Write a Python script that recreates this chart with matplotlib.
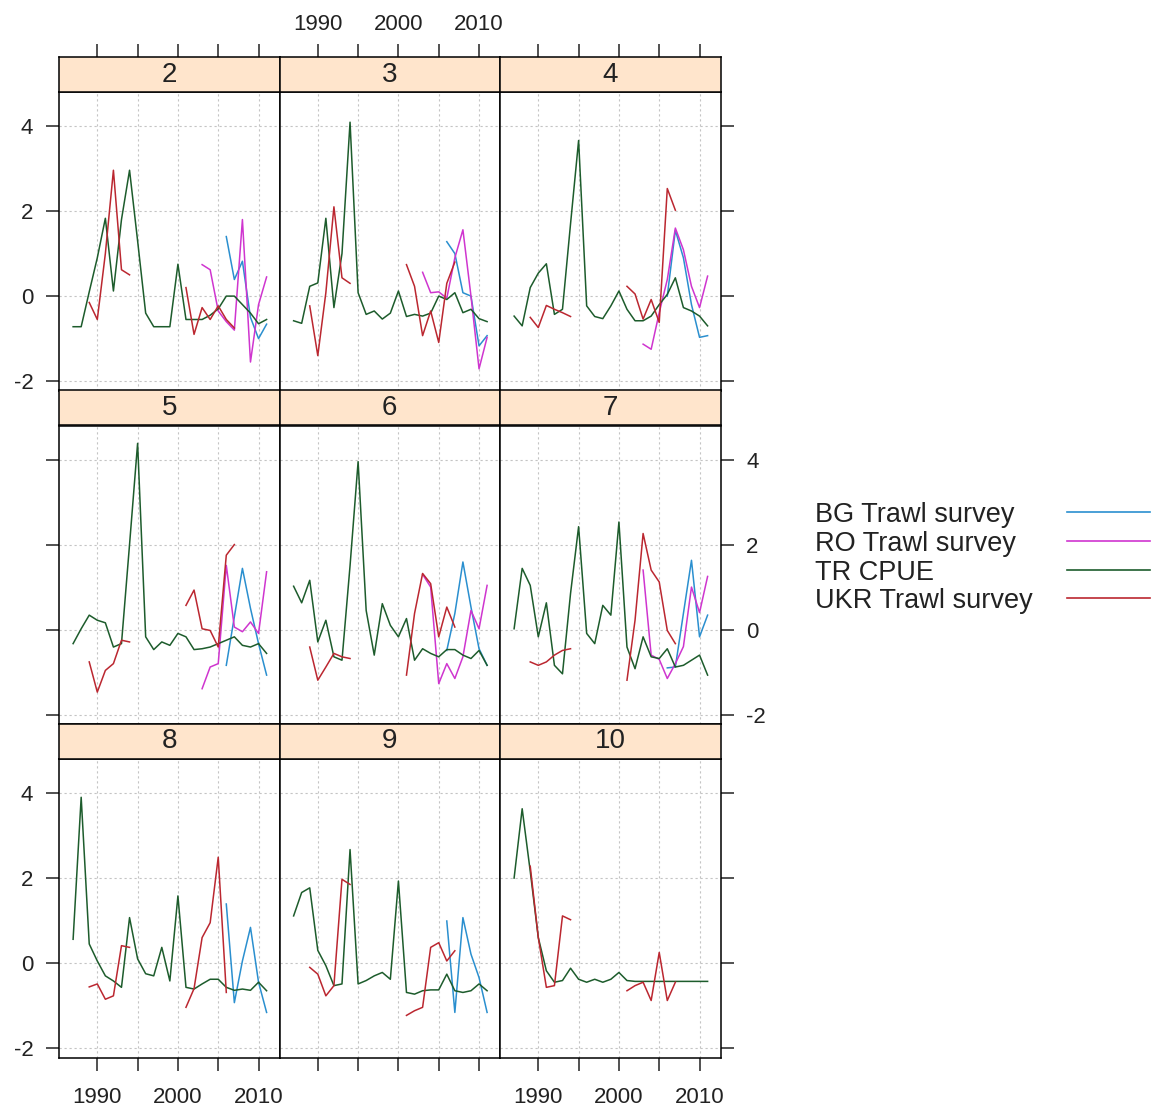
import numpy as np
import matplotlib
matplotlib.use('Agg')
import matplotlib.pyplot as plt
from matplotlib.lines import Line2D

plt.rcParams['font.family'] = ['Liberation Sans', 'DejaVu Sans']
plt.rcParams['axes.unicode_minus'] = False

nan = np.nan

# ---- data ----
years = list(range(1987, 2012))
ages = [2, 3, 4, 5, 6, 7, 8, 9, 10]
series_names = ['BG Trawl survey', 'RO Trawl survey', 'TR CPUE', 'UKR Trawl survey']
series_colors = ['#2a8fcf', '#cf35cf', '#1d5c2c', '#bb2730']

x_ticks = [1990, 1995, 2000, 2005, 2010]
x_ticklabels = ['1990', '', '2000', '', '2010']
y_ticks = [-2, 0, 2, 4]

# one row per age, 1987..2011
bg_trawl = [
    [nan] * 19 + [1.4, 0.39, 0.82, -0.5, -1.0, -0.66],
    [nan] * 19 + [1.28, 1.0, 0.08, 0.0, -1.17, -0.93],
    [nan] * 19 + [0.0, 1.55, 0.9, -0.2, -0.97, -0.93],
    [nan] * 19 + [-0.84, 0.3, 1.44, 0.5, -0.33, -1.07],
    [nan] * 19 + [-0.49, 0.38, 1.59, 0.53, -0.45, -0.84],
    [nan] * 19 + [-0.9, -0.88, 0.38, 1.63, -0.17, 0.34],
    [nan] * 19 + [1.39, -0.93, 0.05, 0.84, -0.45, -1.16],
    [nan] * 19 + [0.99, -1.16, 1.07, 0.21, -0.34, -1.16],
    [nan] * 25,
]

ro_trawl = [
    [nan] * 16 + [0.74, 0.62, -0.35, -0.6, -0.8, 1.8, -1.55, -0.2, 0.45],
    [nan] * 16 + [0.56, 0.08, 0.1, -0.05, 0.9, 1.56, 0.0, -1.71, -0.97],
    [nan] * 16 + [-1.13, -1.25, -0.39, 0.39, 1.6, 1.09, 0.23, -0.27, 0.47],
    [nan] * 16 + [-1.39, -0.88, -0.8, 1.51, 0.06, -0.05, 0.18, -0.09, 1.36],
    [nan] * 16 + [1.3, 1.0, -1.27, -0.8, -1.15, -0.64, 0.45, 0.02, 1.04],
    [nan] * 16 + [1.4, -0.6, -0.7, -1.15, -0.8, -0.4, 1.0, 0.4, 1.25],
    [nan] * 25,
    [nan] * 25,
    [nan] * 25,
]

tr_cpue = [
    [-0.72, -0.72, 0.1, 0.9, 1.83, 0.12, 1.8, 2.96, 1.3, -0.4, -0.72, -0.72, -0.72,
     0.75, -0.55, -0.55, -0.55, -0.45, -0.3, 0.0, 0.0, -0.2, -0.4, -0.65, -0.55],
    [-0.58, -0.64, 0.23, 0.31, 1.83, -0.27, 1.0, 4.09, 0.08, -0.43, -0.35, -0.54, -0.4,
     0.12, -0.48, -0.43, -0.47, -0.4, 0.0, -0.08, 0.08, -0.39, -0.31, -0.53, -0.6],
    [-0.47, -0.7, 0.2, 0.54, 0.76, -0.43, -0.31, 1.7, 3.66, -0.23, -0.48, -0.53, -0.23,
     0.12, -0.31, -0.58, -0.58, -0.47, -0.2, 0.04, 0.43, -0.27, -0.35, -0.47, -0.7],
    [-0.33, 0.02, 0.34, 0.22, 0.16, -0.41, -0.33, 2.0, 4.38, -0.17, -0.47, -0.29, -0.37,
     -0.09, -0.17, -0.47, -0.45, -0.41, -0.33, -0.25, -0.17, -0.37, -0.41, -0.33, -0.56],
    [1.02, 0.63, 1.16, -0.29, 0.22, -0.64, -0.72, 1.5, 3.95, 0.45, -0.6, 0.61, 0.1,
     -0.17, 0.26, -0.72, -0.45, -0.56, -0.64, -0.47, -0.47, -0.6, -0.68, -0.49, -0.84],
    [0.02, 1.44, 1.04, -0.17, 0.63, -0.84, -1.04, 0.85, 2.42, -0.09, -0.33, 0.57, 0.34,
     2.53, -0.41, -0.92, -0.17, -0.64, -0.68, -0.45, -0.88, -0.84, -0.72, -0.6, -1.07],
    [0.56, 3.9, 0.45, 0.05, -0.3, -0.42, -0.57, 1.07, 0.1, -0.25, -0.3, 0.37, -0.42,
     1.58, -0.57, -0.61, -0.49, -0.38, -0.38, -0.57, -0.64, -0.61, -0.64, -0.45, -0.65],
    [1.11, 1.66, 1.77, 0.3, -0.06, -0.53, -0.49, 2.67, -0.49, -0.41, -0.3, -0.22, -0.38,
     1.93, -0.69, -0.73, -0.65, -0.63, -0.63, -0.26, -0.65, -0.69, -0.65, -0.49, -0.65],
    [2.0, 3.63, 2.16, 0.6, -0.18, -0.45, -0.41, -0.12, -0.38, -0.45, -0.38, -0.45, -0.38,
     -0.22, -0.41, -0.43, -0.43, -0.43, -0.43, -0.43, -0.43, -0.43, -0.43, -0.43, -0.43],
]

ukr_trawl = [
    [nan, nan, -0.15, -0.55, 1.0, 2.96, 0.62, 0.5] + [nan] * 6 +
    [0.2, -0.9, -0.27, -0.55, -0.23, -0.55, -0.75] + [nan] * 4,
    [nan, nan, -0.23, -1.4, 0.08, 2.1, 0.43, 0.3] + [nan] * 6 +
    [0.74, 0.23, -0.93, -0.35, -1.09, 0.3, 0.8] + [nan] * 4,
    [nan, nan, -0.5, -0.74, -0.22, -0.31, -0.39, -0.48] + [nan] * 6 +
    [0.23, 0.05, -0.54, -0.08, -0.62, 2.53, 2.02] + [nan] * 4,
    [nan, nan, -0.76, -1.47, -0.96, -0.8, -0.25, -0.29] + [nan] * 6 +
    [0.57, 0.93, 0.02, -0.02, -0.41, 1.75, 2.0] + [nan] * 4,
    [nan, nan, -0.41, -1.19, -0.88, -0.56, -0.64, -0.68] + [nan] * 6 +
    [-1.07, 0.38, 1.32, 1.08, -0.17, 0.53, 0.06] + [nan] * 4,
    [nan, nan, -0.76, -0.84, -0.76, -0.6, -0.49, -0.45] + [nan] * 6 +
    [-1.19, 0.22, 2.26, 1.4, 1.12, -0.02, -0.33] + [nan] * 4,
    [nan, nan, -0.56, -0.49, -0.85, -0.77, 0.41, 0.37] + [nan] * 6 +
    [-1.04, -0.6, 0.6, 0.95, 2.49, -0.69] + [nan] * 5,
    [nan, nan, -0.1, -0.26, -0.77, -0.53, 1.97, 1.85] + [nan] * 6 +
    [-1.23, -1.12, -1.04, 0.37, 0.48, 0.05, 0.29] + [nan] * 4,
    [nan, nan, 2.28, 0.6, -0.57, -0.53, 1.11, 1.02] + [nan] * 6 +
    [-0.65, -0.53, -0.45, -0.88, 0.25, -0.88, -0.45] + [nan] * 4,
]

all_series = [bg_trawl, ro_trawl, tr_cpue, ukr_trawl]

# ---- layout (pixels) ----
W, H = 1155, 1115
col_left = [59, 279.5, 500]
pw = 220.5
strip_top = [57, 390.5, 724]
sh = 35
ph = 298.5


def rect(x, y, w, h):
    return [x / W, 1 - (y + h) / H, w / W, h / H]


fig = plt.figure(figsize=(W / 100, H / 100), dpi=100)

tick_kw = dict(direction='out', length=9.5, width=1.1, pad=9,
               labelsize=16, colors='#222222')

for k, age in enumerate(ages):
    r, c = divmod(k, 3)
    ax = fig.add_axes(rect(col_left[c], strip_top[r] + sh, pw, ph))
    sax = fig.add_axes(rect(col_left[c], strip_top[r], pw, sh))

    for s, col in zip(all_series, series_colors):
        ax.plot(years, s[k], color=col, lw=1.1)

    ax.set_xlim(1985.25, 2012.6)
    ax.set_ylim(-2.22, 4.8)
    ax.set_xticks(x_ticks)
    ax.set_xticklabels(x_ticklabels)
    ax.set_yticks(y_ticks)
    ax.grid(True, color='#c4c4c4', linestyle=(0, (2, 2.5)), lw=0.8)
    ax.tick_params(axis='both', **tick_kw)
    ax.tick_params(axis='x', bottom=(r == 2), labelbottom=(r == 2 and c != 1),
                   top=False, labeltop=False, pad=12)
    ax.tick_params(axis='y', left=(c == 0), labelleft=(c == 0 and r != 1),
                   right=(c == 2), labelright=(c == 2 and r == 1))
    for sp in ax.spines.values():
        sp.set_color('black')
        sp.set_linewidth(1.1)

    sax.set_facecolor('#ffe5cc')
    sax.set_xlim(ax.get_xlim())
    sax.set_yticks([])
    sax.set_xticks(x_ticks)
    sax.set_xticklabels(x_ticklabels)
    sax.tick_params(axis='x', **tick_kw)
    sax.tick_params(axis='x', bottom=False, labelbottom=False,
                    top=(r == 0), labeltop=(r == 0 and c == 1), pad=6)
    for sp in sax.spines.values():
        sp.set_color('black')
        sp.set_linewidth(1.1)
    sax.text(0.5, 0.5, str(age), transform=sax.transAxes, ha='center',
             va='center', fontsize=20, color='#222222')

# legend on the right
base_y = [522, 551, 580, 608]
for name, col, yb in zip(series_names, series_colors, base_y):
    fig.text(815 / W, 1 - yb / H, name, ha='left', va='baseline',
             fontsize=19.5, color='#222222')
    fig.add_artist(Line2D([1067 / W, 1150 / W], [1 - (yb - 10) / H] * 2,
                          transform=fig.transFigure, color=col, lw=1.2))

fig.savefig('out.png', dpi=100)
